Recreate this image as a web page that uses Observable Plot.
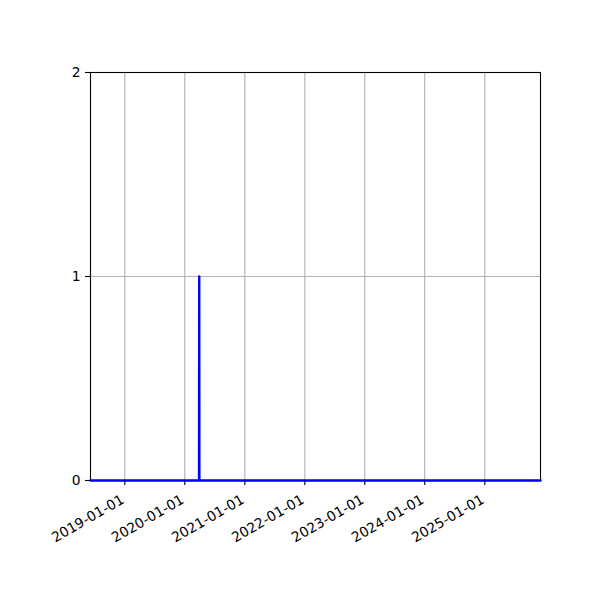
<!DOCTYPE html>
<html>
<head>
<meta charset="utf-8">
<script src="https://cdn.jsdelivr.net/npm/d3@7"></script>
<script src="https://cdn.jsdelivr.net/npm/@observablehq/plot@0.6"></script>
<style>
  html, body { margin: 0; padding: 0; background: white; }
</style>
</head>
<body>
<div id="chart"></div>
<script>
const dates = ["2018-06-06", "2020-03-28", "2020-03-29", "2020-03-30", "2025-12-06"];
const counts = [0, 0, 1, 0, 0];
const xDomain = ["2018-06-06", "2025-12-06"];
const xTickLabels = ["2019-01-01", "2020-01-01", "2021-01-01", "2022-01-01", "2023-01-01", "2024-01-01", "2025-01-01"];
const yTicks = [0, 1, 2];

const data = dates.map((d, i) => ({date: new Date(d + "T00:00:00Z"), value: counts[i]}));
const xTicks = xTickLabels.map(d => new Date(d + "T00:00:00Z"));

const chart = Plot.plot({
  width: 600,
  height: 600,
  marginLeft: 90,
  marginRight: 60,
  marginTop: 72,
  marginBottom: 120,
  style: {fontFamily: "DejaVu Sans", fontSize: "13.9px", color: "black", background: "white", overflow: "visible"},
  x: {type: "utc", domain: xDomain.map(d => new Date(d + "T00:00:00Z"))},
  y: {domain: [0, 2]},
  marks: [
    Plot.gridX(xTicks, {stroke: "#b0b0b0", strokeOpacity: 1, strokeWidth: 1.1}),
    Plot.gridY(yTicks, {stroke: "#b0b0b0", strokeOpacity: 1, strokeWidth: 1.1}),
    Plot.axisX(xTicks, {tickSize: 5, tickPadding: 5, label: null, strokeWidth: 1.1, text: null}),
    Plot.axisX(xTicks, {tickFormat: d3.utcFormat("%Y-%m-%d"), tickRotate: -30, tickSize: 0, tickPadding: 10, label: null, dx: -2, dy: 8}),
    Plot.axisY(yTicks, {tickFormat: d => String(d), tickSize: 5, tickPadding: 5, label: null, strokeWidth: 1.1}),
    Plot.frame({stroke: "black", strokeWidth: 1.1}),
    Plot.line(data, {x: "date", y: "value", stroke: "blue", strokeWidth: 2.4, curve: "linear"})
  ]
});
document.getElementById("chart").appendChild(chart);
</script>
</body>
</html>
